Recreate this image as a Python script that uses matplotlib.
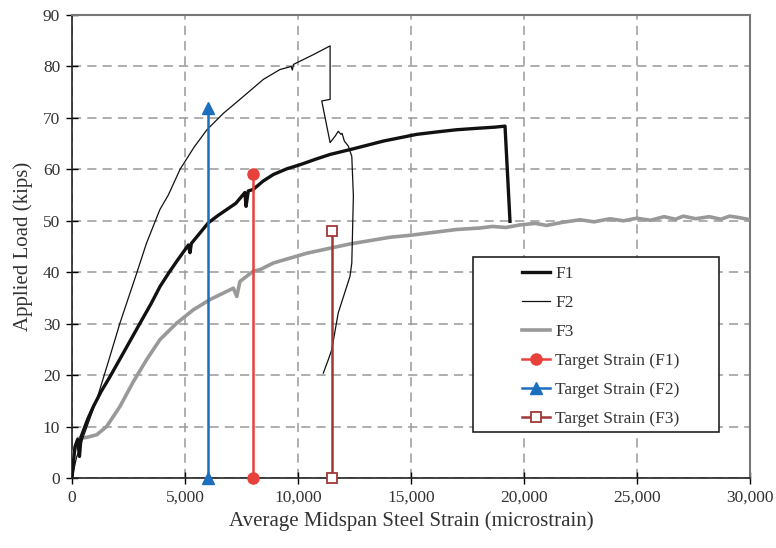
import matplotlib.pyplot as plt
from matplotlib.patches import Rectangle
from matplotlib.ticker import FuncFormatter, MultipleLocator

plt.rcParams['font.family'] = ['Liberation Serif', 'DejaVu Serif']

# F1 specimen (thick black)
f1_strain = [0, 60, 133, 250, 330, 400, 700, 945, 1300, 1680, 2270, 3010, 3500,
             3890, 4300, 4630, 5150, 5220, 5280, 5600, 6030, 6450, 6850, 7250,
             7650, 7700, 7800, 8020, 8450, 8910, 9500, 10090, 10800, 11420,
             12450, 13780, 15250, 16200, 17020, 18000, 18700, 19160, 19380]
f1_load = [0, 3.0, 6.1, 7.5, 4.2, 8.0, 11.5, 13.9, 16.9, 19.7, 24.3, 30.1, 33.9,
           37.2, 40.0, 42.1, 45.3, 43.8, 45.6, 47.3, 49.6, 51.0, 52.2, 53.4,
           55.5, 52.8, 55.8, 56.1, 57.7, 59.0, 60.1, 60.9, 62.0, 62.9,
           64.0, 65.5, 66.8, 67.3, 67.7, 68.0, 68.2, 68.4, 49.9]

# F2 specimen (thin black)
f2_strain = [0, 200, 500, 1090, 1600, 2120, 2860, 3300, 3890, 4260, 4780, 5400,
             5970, 6700, 7430, 8470, 9200, 9700, 9750, 9800, 10680, 11420,
             11420, 11050, 11420, 11650, 11780, 11900, 11950, 12050, 12230,
             12380, 12450, 12380, 12300, 11780, 11490, 11340, 11120]
f2_load = [0, 4.0, 8.0, 15.2, 22.5, 30.1, 39.8, 45.7, 52.2, 55.0, 60.0, 64.3,
           67.7, 70.9, 73.6, 77.5, 79.4, 80.0, 79.3, 80.4, 82.3, 84.0,
           73.6, 73.3, 65.2, 66.5, 67.4, 66.8, 67.0, 65.5, 64.5,
           62.5, 54.8, 41.8, 39.2, 32.1, 24.9, 23.0, 20.4]

# F3 specimen (thick gray)
f3_strain = [0, 60, 280, 650, 1090, 1530, 2120, 2710, 3300, 3890, 4630, 5370,
             6110, 7140, 7290, 7430, 8020, 8320, 8910, 10390, 12300, 14070,
             15000, 16280, 17000, 18050, 18600, 19200, 19820, 20500, 21000,
             21700, 22480, 23100, 23800, 24400, 24990, 25600, 26200, 26700,
             27050, 27600, 28200, 28700, 29100, 29410, 30150]
f3_load = [0, 4.8, 7.7, 7.9, 8.4, 10.0, 13.9, 18.7, 23.0, 26.9, 30.1, 32.7,
           34.7, 36.9, 35.3, 38.2, 40.2, 40.5, 41.8, 43.7, 45.5, 46.8,
           47.2, 47.9, 48.3, 48.6, 48.9, 48.7, 49.2, 49.5, 49.1,
           49.7, 50.2, 49.8, 50.4, 50.0, 50.5, 50.1, 50.8, 50.3,
           50.9, 50.4, 50.8, 50.3, 50.9, 50.7, 50.1]

# target strains (strain, top load)
target_f1 = (8000, 59.0)
target_f2 = (6000, 72.0)
target_f3 = (11500, 48.0)

fig = plt.figure(figsize=(7.76, 5.48), dpi=100)
ax = fig.add_axes([0.0928, 0.1277, 0.8737, 0.8449])

ax.plot(f1_strain, f1_load, color='#111111', lw=2.4, label='F1', zorder=4)
ax.plot(f2_strain, f2_load, color='#111111', lw=0.9, label='F2', zorder=4)
ax.plot(f3_strain, f3_load, color='#999999', lw=2.6, label='F3', zorder=3)

ax.plot([target_f1[0]] * 2, [0, target_f1[1]], color='#e8403a', lw=1.8,
        marker='o', ms=8, label='Target Strain (F1)', zorder=5, clip_on=False)
ax.plot([target_f2[0]] * 2, [0, target_f2[1]], color='#1b6fbd', lw=1.8,
        marker='^', ms=8, label='Target Strain (F2)', zorder=5, clip_on=False)
ax.plot([target_f3[0]] * 2, [0, target_f3[1]], color='#a03838', lw=1.8,
        marker='s', ms=7, mfc='white', mec='#a03838', mew=1.3,
        label='Target Strain (F3)', zorder=5, clip_on=False)

ax.set_xlim(0, 30000)
ax.set_ylim(0, 90)
ax.xaxis.set_major_locator(MultipleLocator(5000))
ax.yaxis.set_major_locator(MultipleLocator(10))
ax.xaxis.set_major_formatter(FuncFormatter(lambda v, p: f'{int(v):,}'))

ax.grid(True, color='#999999', ls=(0, (6, 4)), lw=1.1)
ax.set_axisbelow(True)
ax.tick_params(direction='inout', length=9, width=1, labelsize=12.5,
               labelcolor='#333333', top=False, right=False, pad=4)

for s in ['left', 'bottom']:
    ax.spines[s].set_color('#222222')
    ax.spines[s].set_linewidth(1.2)
for s in ['top', 'right']:
    ax.spines[s].set_color('#777777')
    ax.spines[s].set_linewidth(1.5)

ax.set_xlabel('Average Midspan Steel Strain (microstrain)', fontsize=15,
              color='#333333', labelpad=4)
ax.set_ylabel('Applied Load (kips)', fontsize=15, color='#333333', labelpad=7)

# legend box drawn separately so the entries sit indented like the original
ax.add_patch(Rectangle((0.591, 0.099), 0.364, 0.378, transform=ax.transAxes,
                       facecolor='white', edgecolor='#222222', lw=1.2,
                       zorder=6))
leg = ax.legend(loc='upper left', bbox_to_anchor=(0.664, 0.458),
                fontsize=12.5, frameon=False, borderpad=0, labelspacing=0.74,
                handlelength=1.6, handletextpad=0.3, borderaxespad=0)
leg.set_zorder(7)
for t in leg.get_texts():
    t.set_color('#333333')

fig.savefig('out.png', dpi=100)
